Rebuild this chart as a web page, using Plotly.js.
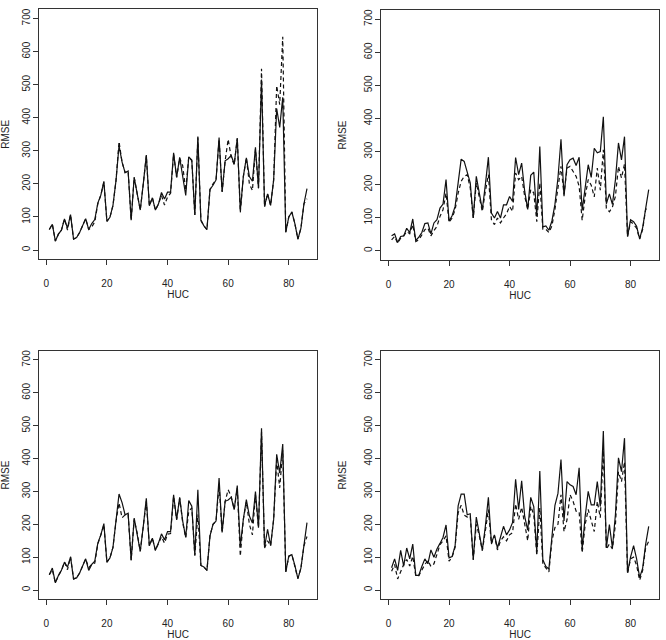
<!DOCTYPE html>
<html>
<head>
<meta charset="utf-8">
<script src="https://cdn.plot.ly/plotly-3.0.1.min.js"></script>
<style>html,body{margin:0;padding:0;background:#fff;}#chart{width:666px;height:640px;}</style>
</head>
<body>
<div id="chart"></div>
<script>
var huc = [1,2,3,4,5,6,7,8,9,10,11,12,13,14,15,16,17,18,19,20,21,22,23,24,25,26,27,28,29,30,
  31,32,33,34,35,36,37,38,39,40,41,42,43,44,45,46,47,48,49,50,51,52,53,54,55,56,57,58,59,60,
  61,62,63,64,65,66,67,68,69,70,71,72,73,74,75,76,77,78,79,80,81,82,83,84,85,86];

var xTicks = [0,20,40,60,80];
var yTicks = [0,100,200,300,400,500,600,700];
var xLabel = 'HUC';
var yLabel = 'RMSE';

var tlSolid = [62,78,27,48,60,94,66,107,33,38,
  53,76,95,62,80,92,142,166,208,87,
  99,135,210,316,266,234,239,90,220,170,
  121,200,287,134,158,121,139,174,154,175,
  175,294,220,280,228,165,282,272,106,343,
  90,73,62,183,196,212,340,176,270,276,
  286,260,338,119,222,279,222,208,311,187,
  516,134,170,135,212,428,371,462,54,100,
  115,80,33,66,140,186];
var tlDash = [62,78,27,48,60,94,60,107,33,38,
  53,76,95,62,70,85,140,166,205,87,
  99,135,210,328,266,234,239,90,220,170,
  121,200,285,134,158,121,139,165,136,160,
  172,290,220,278,255,180,282,270,106,340,
  90,73,62,183,200,212,335,176,270,335,
  280,258,338,114,222,279,200,180,305,187,
  548,130,170,135,212,497,440,645,54,100,
  115,80,33,66,140,155];

var trSolid = [45,51,25,43,45,68,55,96,31,41,
  55,82,84,51,84,94,129,141,215,89,
  106,134,205,277,270,238,205,99,225,174,
  124,200,283,114,99,119,99,139,139,164,
  149,282,230,265,180,125,228,238,105,315,
  72,75,62,90,140,220,337,165,260,275,
  280,258,283,122,195,260,222,310,296,300,
  405,142,172,140,215,326,275,345,43,94,
  88,74,36,70,128,185];
var trDash = [33,43,23,38,45,58,51,79,28,33,
  48,64,69,45,61,74,104,124,174,86,
  99,124,174,210,225,230,190,99,205,160,
  119,180,230,94,79,99,84,99,112,134,
  119,235,215,225,165,125,185,175,88,205,
  65,65,55,75,125,190,255,170,250,255,
  240,225,195,92,165,215,198,163,250,183,
  305,128,118,132,165,255,220,262,43,88,
  80,68,35,65,125,130];

var blSolid = [47,67,22,44,60,85,70,101,34,37,
  52,72,95,60,78,88,143,168,202,85,
  98,130,209,292,266,229,234,91,219,173,
  118,194,279,135,158,121,143,171,153,178,
  178,290,214,282,210,160,272,255,105,305,
  75,70,60,165,200,210,341,175,270,274,
  282,245,318,133,215,275,225,204,300,190,
  492,130,185,135,215,413,356,444,55,103,
  108,75,35,67,135,205];
var blDash = [47,62,22,44,60,85,62,101,34,37,
  52,72,95,68,78,82,140,168,198,85,
  98,130,209,265,220,229,230,91,215,173,
  118,194,270,135,158,121,143,162,143,170,
  172,285,214,280,205,160,240,250,105,230,
  75,70,60,165,200,210,320,175,270,305,
  285,245,310,103,215,268,200,168,290,190,
  480,128,150,135,215,395,311,425,55,103,
  108,75,35,67,135,163];

var brSolid = [68,95,60,121,73,128,95,140,45,45,
  72,95,80,122,100,125,142,160,198,98,
  102,135,256,292,292,229,232,93,222,168,
  121,194,282,143,168,128,158,194,168,183,
  206,337,245,332,224,182,282,254,117,362,
  92,72,64,162,258,294,397,210,330,320,
  315,290,372,124,225,300,259,259,330,254,
  484,128,199,128,230,402,360,462,53,100,
  135,95,38,67,140,194];
var brDash = [57,78,34,57,78,93,73,103,42,44,
  62,78,90,72,80,110,138,150,165,88,
  100,130,235,258,228,222,225,92,200,165,
  120,180,245,140,165,122,150,162,150,168,
  175,262,215,252,200,150,255,230,105,250,
  80,68,55,150,190,200,290,178,214,290,
  270,240,238,113,200,245,215,178,270,220,
  425,125,140,125,200,360,330,390,50,95,
  100,75,30,60,130,148];

var panels = [
  {solid: tlSolid, dash: tlDash, xd: [39/666, 317.3/666], yd: [1-259.3/640, 1-9.3/640]},
  {solid: trSolid, dash: trDash, xd: [381.3/666, 659/666], yd: [1-260/640, 1-10/640]},
  {solid: blSolid, dash: blDash, xd: [39/666, 317.3/666], yd: [1-599.3/640, 1-350.7/640]},
  {solid: brSolid, dash: brDash, xd: [381.3/666, 659/666], yd: [1-599.3/640, 1-350.7/640]}
];

var FONT = 'Liberation Sans, Arial, Helvetica, sans-serif';
var ink = '#222';
var traces = [];
var layout = {
  width: 666, height: 640,
  margin: {l: 0, r: 0, t: 0, b: 0},
  paper_bgcolor: '#fff', plot_bgcolor: '#fff',
  showlegend: false,
  font: {family: FONT, size: 10, color: ink}
};

panels.forEach(function(p, i) {
  var n = i === 0 ? '' : String(i + 1);
  traces.push({x: huc, y: p.solid, type: 'scatter', mode: 'lines',
    xaxis: 'x' + n, yaxis: 'y' + n, line: {color: '#111', width: 1.2}, hoverinfo: 'skip'});
  traces.push({x: huc, y: p.dash, type: 'scatter', mode: 'lines',
    xaxis: 'x' + n, yaxis: 'y' + n, line: {color: '#111', width: 1.2, dash: '4px,3px'}, hoverinfo: 'skip'});
  layout['xaxis' + n] = {
    domain: p.xd, anchor: 'y' + n, range: [-2.4, 89.4],
    tickmode: 'array', tickvals: xTicks, ticktext: xTicks.map(String),
    ticks: 'outside', ticklen: 5, tickwidth: 1, tickcolor: '#333',
    showline: true, mirror: true, linecolor: '#333', linewidth: 1,
    showgrid: false, zeroline: false, fixedrange: true,
    tickfont: {family: FONT, size: 10, color: ink},
    ticklabelstandoff: 10,
    title: {text: xLabel, font: {family: FONT, size: 10, color: ink}, standoff: 2}
  };
  layout['yaxis' + n] = {
    domain: p.yd, anchor: 'x' + n, range: [-28, 728],
    tickmode: 'array', tickvals: yTicks, ticktext: yTicks.map(String),
    ticks: 'outside', ticklen: 5, tickwidth: 1, tickcolor: '#333', tickangle: -90,
    showline: true, mirror: true, linecolor: '#333', linewidth: 1,
    showgrid: false, zeroline: false, fixedrange: true,
    tickfont: {family: FONT, size: 10, color: ink},
    ticklabelstandoff: -1,
    title: {text: yLabel, font: {family: FONT, size: 10, color: ink}, standoff: 14}
  };
});

Plotly.newPlot('chart', traces, layout, {staticPlot: true, displayModeBar: false});
</script>
</body>
</html>
